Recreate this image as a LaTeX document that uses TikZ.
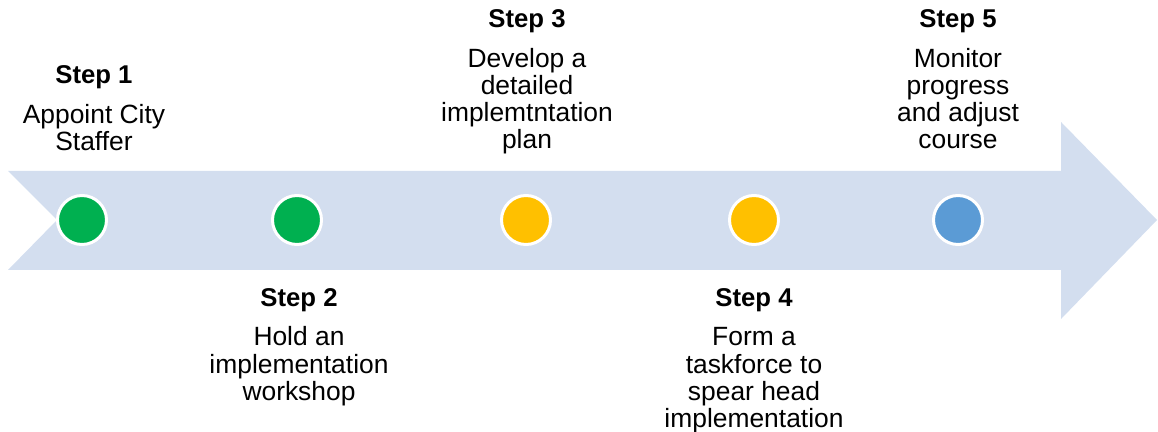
\documentclass[tikz,border=0pt]{standalone}
\usepackage{fontspec}
\setmainfont{Liberation Sans}
\definecolor{arrowblue}{HTML}{D3DEEF}
\definecolor{dotgreen}{HTML}{00B050}
\definecolor{dotyellow}{HTML}{FFC000}
\definecolor{dotblue}{HTML}{5B9BD5}
\tikzset{
  dot/.style={circle, draw=white, line width=3pt, minimum size=49pt, inner sep=0pt},
  headtxt/.style={anchor=base, inner sep=0pt, font=\fontsize{25.7}{27}\selectfont\bfseries},
  bodytxt/.style={anchor=base, inner sep=0pt, font=\fontsize{26.4}{27}\selectfont},
}
\begin{document}
\begin{tikzpicture}[x=1pt,y=1pt]
\useasboundingbox (0,0) rectangle (1158,431);
% big arrow
\fill[arrowblue] (8,260) -- (1061,260) -- (1061,309) -- (1157,211) -- (1061,112)
  -- (1061,161) -- (8,161) -- (57,211) -- cycle;
% dots
\node[dot, fill=dotgreen]  (d1) at (82,211) {};
\node[dot, fill=dotgreen]  (d2) at (297,211) {};
\node[dot, fill=dotyellow] (d3) at (526,211) {};
\node[dot, fill=dotyellow] (d4) at (754,211) {};
\node[dot, fill=dotblue]   (d5) at (958,211) {};
% Step 1
\node[headtxt] (s1h) at (94,347) {Step 1};
\node[bodytxt] (s1a) at (94,307) {Appoint City};
\node[bodytxt] (s1b) at (94,280) {Staffer};
% Step 2
\node[headtxt] (s2h) at (299,124) {Step 2};
\node[bodytxt] (s2a) at (299,85) {Hold an};
\node[bodytxt] (s2b) at (299,58) {implementation};
\node[bodytxt] (s2c) at (299,31) {workshop};
% Step 3
\node[headtxt] (s3h) at (527,403) {Step 3};
\node[bodytxt] (s3a) at (527,363) {Develop a};
\node[bodytxt] (s3b) at (527,336) {detailed};
\node[bodytxt] (s3c) at (527,309) {implemtntation};
\node[bodytxt] (s3d) at (527,282) {plan};
% Step 4
\node[headtxt] (s4h) at (754,124) {Step 4};
\node[bodytxt] (s4a) at (754,85) {Form a};
\node[bodytxt] (s4b) at (754,58) {taskforce to};
\node[bodytxt] (s4c) at (754,31) {spear head};
\node[bodytxt] (s4d) at (754,4) {implementation};
% Step 5
\node[headtxt] (s5h) at (958,403) {Step 5};
\node[bodytxt] (s5a) at (958,363) {Monitor};
\node[bodytxt] (s5b) at (958,336) {progress};
\node[bodytxt] (s5c) at (958,309) {and adjust};
\node[bodytxt] (s5d) at (958,282) {course};
\end{tikzpicture}
\end{document}
